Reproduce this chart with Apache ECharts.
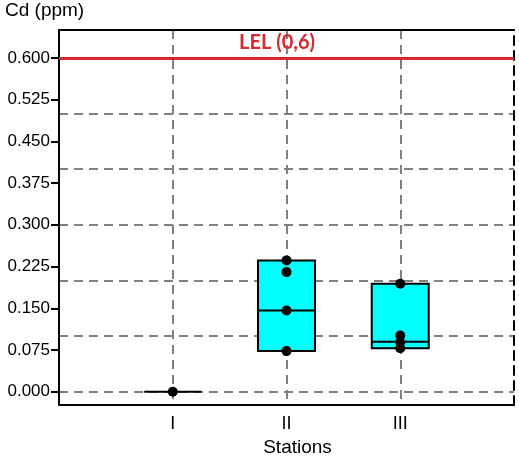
<!DOCTYPE html>
<html>
<head>
<meta charset="utf-8">
<script src="https://cdn.jsdelivr.net/npm/echarts@6/dist/echarts.min.js"></script>
<style>
  html, body { margin: 0; padding: 0; background: #fff; }
  #main { width: 519px; height: 462px; }
</style>
</head>
<body>
<div id="main"></div>
<script>
// categories on the x axis (empty ends keep the stations off the borders)
var categories = ['', 'I', 'II', 'III', ''];
var stationIdx = [1, 2, 3];

// box stats per station: [min, Q1, median, Q3, max]
var boxStats = [
    [0, 0, 0, 0, 0],
    [0.073, 0.073, 0.146, 0.236, 0.236],
    [0.078, 0.078, 0.090, 0.194, 0.194]
];

// individual measurements
var pointsI = [0];
var pointsII = [0.236, 0.215, 0.146, 0.073];
var pointsIII = [0.194, 0.101, 0.089, 0.078];

// y tick labels and grid lines
var yLabelValues = [0, 0.075, 0.15, 0.225, 0.3, 0.375, 0.45, 0.525, 0.6];
var yGridValues = [0, 0.1, 0.2, 0.3, 0.4, 0.5, 0.6];
var yMin = -0.024;
var yMax = 0.65;

// limit line
var lelValue = 0.6;
var lelLabel = 'LEL (0,6)';

var myChart = echarts.init(document.getElementById('main'));

var allPoints = [pointsI, pointsII, pointsIII];
var scatterData = [];
allPoints.forEach(function (arr, i) {
    arr.forEach(function (v) { scatterData.push([stationIdx[i], v]); });
});
var boxData = boxStats.map(function (s, i) { return [stationIdx[i]].concat(s); });

var option = {
    animation: false,
    title: {
        text: 'Cd (ppm)',
        left: 5,
        top: 1,
        padding: 0,
        textStyle: { fontFamily: 'Liberation Sans', fontSize: 19, fontWeight: 'normal', color: '#000' }
    },
    grid: { left: 59, right: 5, top: 30, bottom: 55 },
    xAxis: [
        {
            type: 'category',
            data: categories,
            boundaryGap: false,
            name: 'Stations',
            nameLocation: 'middle',
            nameGap: 31,
            nameTextStyle: { fontFamily: 'Liberation Sans', fontSize: 19, color: '#000', padding: [0, 0, 0, 22] },
            axisLine: { onZero: false, lineStyle: { color: '#000', width: 2 } },
            axisTick: { show: false },
            axisLabel: { fontFamily: 'Liberation Sans', fontSize: 18, color: '#000', margin: 10 },
            splitLine: {
                show: true,
                // only the station lines; the right border is drawn by the right axis
                interval: function (i) { return i > 0 && i < categories.length - 1; },
                lineStyle: { color: '#808080', width: 2, type: [9, 6] }
            }
        },
        {
            type: 'category',
            data: categories,
            boundaryGap: false,
            position: 'top',
            axisLine: { show: true, onZero: false, lineStyle: { color: '#000', width: 2 } },
            axisTick: { show: false },
            axisLabel: { show: false },
            splitLine: { show: false }
        }
    ],
    yAxis: [
        {
            type: 'value',
            min: yMin,
            max: yMax,
            axisLine: { show: true, onZero: false, lineStyle: { color: '#000', width: 2 } },
            axisTick: { show: true, length: 8, customValues: yLabelValues, lineStyle: { color: '#000', width: 2 } },
            axisLabel: {
                customValues: yLabelValues,
                margin: 9,
                fontFamily: 'Liberation Sans',
                fontSize: 17,
                color: '#000',
                formatter: function (v) { return v.toFixed(3); }
            },
            splitLine: { show: false }
        },
        {
            type: 'value',
            min: yMin,
            max: yMax,
            position: 'left',
            axisLine: { show: false },
            axisTick: { show: false, customValues: yGridValues },
            axisLabel: { show: false, customValues: yGridValues },
            splitLine: { show: true, lineStyle: { color: '#808080', width: 2, type: [9, 6] } }
        },
        {
            type: 'value',
            min: yMin,
            max: yMax,
            position: 'right',
            axisLine: { show: true, onZero: false, lineStyle: { color: '#000', width: 2, type: [9, 6] } },
            axisTick: { show: false },
            axisLabel: { show: false },
            splitLine: { show: false }
        }
    ],
    series: [
        {
            type: 'boxplot',
            xAxisIndex: 0,
            yAxisIndex: 0,
            dimensions: ['x', 'min', 'Q1', 'median', 'Q3', 'max'],
            encode: { x: 0, y: [1, 2, 3, 4, 5] },
            data: boxData,
            boxWidth: [57, 57],
            itemStyle: { color: '#00FFFF', borderColor: '#000', borderWidth: 2 },
            z: 3,
            markLine: {
                silent: true,
                symbol: 'none',
                lineStyle: { color: '#D42A2E', width: 3, type: 'solid' },
                label: {
                    show: true,
                    position: 'insideMiddleTop',
                    formatter: lelLabel,
                    distance: 5,
                    padding: [0, 19, 0, 0],
                    fontFamily: 'Lato',
                    fontWeight: 'bold',
                    fontSize: 20,
                    color: '#D42A2E'
                },
                data: [{ yAxis: lelValue }]
            }
        },
        {
            type: 'scatter',
            xAxisIndex: 0,
            yAxisIndex: 0,
            data: scatterData,
            symbolSize: 10,
            itemStyle: { color: '#000', opacity: 1 },
            z: 5
        }
    ]
};

myChart.setOption(option);
window.onresize = myChart.resize;
</script>
</body>
</html>
